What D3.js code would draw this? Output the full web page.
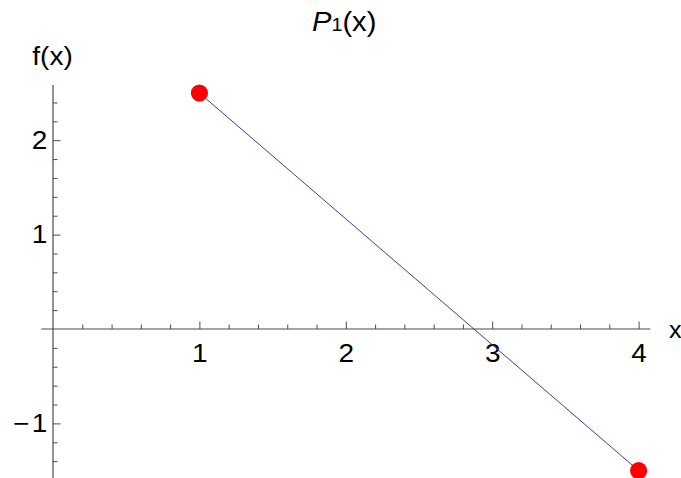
<!DOCTYPE html>
<html>
<head>
<meta charset="utf-8">
<script src="https://cdn.jsdelivr.net/npm/d3@7"></script>
<style>
  html, body { margin: 0; padding: 0; background: #fff; }
  svg { display: block; font-family: "Liberation Sans", Arial, sans-serif; }
</style>
</head>
<body>
<svg id="chart"></svg>
<script>
// data
const pointsX = [1, 4];
const pointsY = [2.5, -1.5];
const xMajorTicks = [1, 2, 3, 4];
const yMajorTicks = [-1, 1, 2];
const xMinorTicks = d3.range(1, 21).map(i => i / 5).filter(v => !Number.isInteger(v));
const yMinorTicks = d3.range(-7, 13).map(i => i / 5).filter(v => !Number.isInteger(v));
const xAxisExtent = [-0.08, 4.08];
const yAxisExtent = [-1.62, 2.585];

const width = 681;
const height = 478;
const axisColor = "#4a4a4a";
const stretch = 1.12; //the reference text is a bit wider than Liberation Sans

const svg = d3.select("#chart").attr("width", width).attr("height", height);

const x = d3.scaleLinear().domain([0, 4]).range([53, 638.6]);
const y = d3.scaleLinear().domain([0, 2]).range([329, 140.2]);

//Axes are drawn through the origin, Mathematica style.
const xAxisG = svg.append("g").attr("transform", `translate(0, ${y(0)})`);
xAxisG.call(d3.axisBottom(x)
    .tickValues(xMinorTicks)
    .tickSizeInner(-4.5)
    .tickSizeOuter(0)
    .tickFormat(""));
xAxisG.select(".domain").remove();
const xMajorG = svg.append("g").attr("transform", `translate(0, ${y(0)})`);
xMajorG.call(d3.axisBottom(x)
    .tickValues(xMajorTicks)
    .tickSizeInner(-7.5)
    .tickSizeOuter(0)
    .tickPadding(15)
    .tickFormat(d3.format("d")));
xMajorG.select(".domain").remove();

const yAxisG = svg.append("g").attr("transform", `translate(${x(0)}, 0)`);
yAxisG.call(d3.axisLeft(y)
    .tickValues(yMinorTicks)
    .tickSizeInner(-4.5)
    .tickSizeOuter(0)
    .tickFormat(""));
yAxisG.select(".domain").remove();
const yMajorG = svg.append("g").attr("transform", `translate(${x(0)}, 0)`);
yMajorG.call(d3.axisLeft(y)
    .tickValues(yMajorTicks)
    .tickSizeInner(-7.5)
    .tickSizeOuter(0)
    .tickPadding(5)
    .tickFormat(d => d < 0 ? "\u2212\u200A" + Math.abs(d) : String(d)));
yMajorG.select(".domain").remove();

svg.selectAll(".tick line").attr("stroke", axisColor).attr("stroke-width", 1);
svg.selectAll(".tick text")
    .attr("fill", "#000")
    .attr("transform", `scale(${stretch},1)`)
    .style("font-size", "25px")
    .style("font-family", "Liberation Sans, Arial, sans-serif");

//Axis lines
svg.append("line")
    .attr("x1", x(xAxisExtent[0])).attr("x2", x(xAxisExtent[1]))
    .attr("y1", y(0)).attr("y2", y(0))
    .attr("stroke", axisColor).attr("stroke-width", 1.2);
svg.append("line")
    .attr("x1", x(0)).attr("x2", x(0))
    .attr("y1", y(yAxisExtent[0])).attr("y2", y(yAxisExtent[1]))
    .attr("stroke", axisColor).attr("stroke-width", 1.2);

//Axis labels
svg.append("text")
    .attr("transform", `translate(669, ${y(0) + 9}) scale(1.05,1)`)
    .style("font-size", "24px")
    .text("x");
svg.append("text")
    .attr("transform", `translate(${x(0) - 0.5}, 65) scale(${stretch},1)`)
    .attr("text-anchor", "middle")
    .style("font-size", "25px")
    .text("f(x)");

//Title
const title = svg.append("text")
    .attr("transform", "translate(312, 31) scale(1.04,1)")
    .style("font-size", "28px");
title.append("tspan").style("font-style", "italic").text("P");
title.append("tspan").style("font-size", "19px").text("1");
title.append("tspan").text("(x)");

//Line and points
const pts = pointsX.map((v, i) => ({x: v, y: pointsY[i]}));
const line = d3.line().x(d => x(d.x)).y(d => y(d.y));
svg.append("path")
    .datum(pts)
    .attr("d", line)
    .attr("fill", "none")
    .attr("stroke", "#3d3d99")
    .attr("stroke-width", 1);

svg.selectAll(".pt")
    .data(pts)
    .enter()
    .append("circle")
    .attr("class", "pt")
    .attr("cx", d => x(d.x))
    .attr("cy", d => y(d.y))
    .attr("r", 8.6)
    .attr("fill", "#ff0000");
</script>
</body>
</html>
